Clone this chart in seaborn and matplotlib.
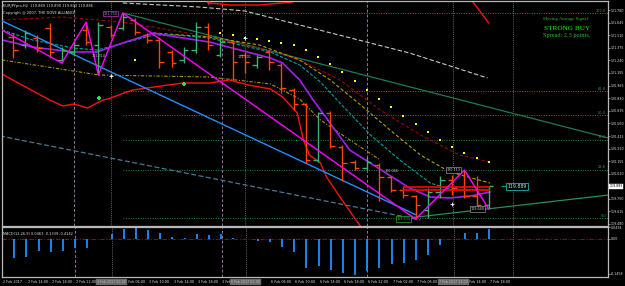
import matplotlib
matplotlib.use("Agg")
import matplotlib.pyplot as plt
import matplotlib.transforms as mtransforms
import numpy as np
import pandas as pd
import seaborn as sns

# ---------------- data (EURJPYpro, H2) ----------------
bar_open = [121.490, 121.404, 121.479, 121.587, 121.243, 121.329, 121.565, 121.404, 121.597, 121.587,
            121.673, 121.511, 121.458, 121.329, 121.243, 121.350, 121.597, 121.296, 121.436, 121.296,
            121.189, 121.329, 121.189, 120.920, 120.770, 120.167, 120.673, 120.307, 120.146, 120.081,
            120.114, 119.985, 119.845, 119.780, 119.630, 119.823, 119.952, 119.877, 119.780, 119.684]
bar_high = [121.533, 121.565, 121.511, 121.640, 121.382, 121.436, 121.651, 121.651, 121.619, 121.748,
            121.694, 121.533, 121.490, 121.350, 121.382, 121.651, 121.640, 121.479, 121.458, 121.329,
            121.296, 121.350, 121.210, 120.942, 120.780, 120.683, 120.694, 120.329, 120.167, 120.200,
            120.135, 119.995, 119.877, 119.791, 119.866, 119.995, 120.006, 120.060, 119.995, 119.888]
bar_low = [121.264, 121.372, 121.329, 121.264, 121.210, 121.296, 121.404, 121.081, 121.490, 121.565,
           121.511, 121.425, 121.157, 121.167, 121.210, 121.318, 121.350, 121.275, 121.028, 121.103,
           121.157, 121.135, 120.888, 120.705, 120.135, 120.146, 120.297, 119.942, 120.060, 120.060,
           119.727, 119.823, 119.759, 119.533, 119.544, 119.759, 119.791, 119.759, 119.662, 119.641]
bar_close = [121.350, 121.533, 121.372, 121.329, 121.350, 121.404, 121.436, 121.619, 121.511, 121.705,
             121.544, 121.458, 121.221, 121.210, 121.350, 121.597, 121.404, 121.436, 121.221, 121.221,
             121.275, 121.221, 120.942, 120.770, 120.167, 120.673, 120.318, 120.135, 120.081, 120.146,
             119.985, 119.845, 119.791, 119.684, 119.823, 119.952, 119.866, 119.780, 119.684, 119.888]

macd_hist = [-0.080, -0.076, -0.050, -0.055, -0.050, -0.038, -0.038, -0.002, 0.021, 0.042,
             0.046, 0.038, 0.025, 0.008, 0.004, 0.021, 0.017, 0.021, 0.004, -0.001,
             -0.008, -0.013, -0.034, -0.055, -0.122, -0.113, -0.130, -0.143, -0.151, -0.134,
             -0.122, -0.105, -0.101, -0.088, -0.067, -0.025, 0.001, 0.025, 0.025, 0.042]

# moving averages / bands (x = bar index, y = price)
ma_purple_x = [-0.9, 1.6, 4.9, 6.9, 8.5, 11.5, 13.4, 16.1, 21.1, 22.1, 23.5, 24.6, 27.6, 32.5, 34.2, 35.8, 37.5, 39.1]
ma_purple_y = [121.458, 121.382, 121.329, 121.329, 121.404, 121.533, 121.490, 121.436, 121.264, 121.210,
               121.028, 120.813, 120.275, 119.867, 119.770, 119.759, 119.781, 119.823]
ma_teal_x = [-0.9, 1.6, 4.9, 6.9, 8.5, 11.5, 13.4, 16.1, 21.1, 23.5, 25.2, 26.8, 29.3, 31.7, 34.2, 36.0, 39.1]
ma_teal_y = [121.565, 121.458, 121.372, 121.350, 121.404, 121.511, 121.511, 121.479, 121.329, 121.189,
             121.006, 120.780, 120.437, 120.168, 119.920, 119.845, 119.845]
ma_olive_x = [11.5, 16.1, 20.2, 23.5, 26.0, 28.4, 30.9, 33.4, 35.8, 39.1]
ma_olive_y = [121.533, 121.490, 121.404, 121.243, 121.028, 120.770, 120.490, 120.221, 120.039, 119.920]
ma_darkred_x = [-0.9, 4.0, 9.0, 15.3, 20.2, 23.5, 26.8, 30.1, 33.4, 36.6, 39.1]
ma_darkred_y = [121.673, 121.705, 121.651, 121.511, 121.372, 121.243, 121.028, 120.705, 120.437, 120.221, 120.146]
ma_low_x = [-0.9, 7.1, 16.1, 21.1, 23.5, 25.2, 27.6, 30.1]
ma_low_y = [121.243, 121.081, 121.060, 120.985, 120.823, 120.598, 120.383, 120.168]
ma_slow_x = [9.0, 15.3, 19.0, 23.5, 32.5, 38.9]
ma_slow_y = [121.856, 121.812, 121.770, 121.619, 121.318, 121.049]

band_up1_x = [16.1, 17.8, 20.2, 22.9, 24.5]
band_up1_y = [121.856, 121.834, 121.834, 121.866, 122.000]
band_up2_x = [36.8, 37.7, 39.0]
band_up2_y = [122.000, 121.866, 121.640]
band_lo_x = [-1.07, 3.0, 4.1, 5.0, 6.1, 7.4, 8.0, 9.8, 13.9, 16.1, 17.7, 19.3, 21.1, 22.1,
             23.3, 23.8, 24.3, 25.2, 25.7, 26.8, 28.4, 29.5]
band_lo_y = [121.103, 120.813, 120.748, 120.770, 120.727, 120.813, 120.834, 120.920, 120.995, 120.995,
             121.028, 120.974, 120.931, 120.845, 120.673, 120.383, 120.221, 120.135, 119.985, 119.770,
             119.469, 119.300]

zigzag_x = [-0.9, 4.0, 6.0, 7.0, 9.0, 33.0, 37.0, 39.0]
zigzag_y = [121.565, 121.210, 121.651, 121.081, 121.748, 119.533, 120.060, 119.641]

trend_blue = ([-1.07, 33.0], [121.673, 119.58])
trend_steel = ([-1.07, 33.4], [120.426, 119.523])
trend_green_up = ([9.02, 48.8], [121.748, 120.404])
trend_green_lo = ([31.7, 48.8], [119.533, 119.791])

sar_x = list(range(17, 40))
sar_y = [121.533, 121.511, 121.479, 121.468, 121.447, 121.425, 121.404, 121.350, 121.275, 121.200,
         121.114, 121.017, 120.920, 120.823, 120.737, 120.641, 120.555, 120.469, 120.383, 120.307,
         120.243, 120.189, 120.146]

fib_levels = [121.748, 120.906, 120.646, 120.386, 120.064, 119.544]
fib_names = ["100.0", "61.8", "50.0", "38.2", "23.6", "0.0"]

sr_levels = [119.877, 119.845]

price_ticks = [121.780, 121.645, 121.510, 121.375, 121.240, 121.105, 120.965, 120.830, 120.695,
               120.560, 120.425, 120.290, 120.155, 120.020, 119.750, 119.615, 119.480]
last_price = 119.885

# time axis labels (every 2nd H2 bar; the ones hidden under the line-time boxes are left out)
time_tick_idx = [-1, 1, 3, 5, 7, 9, 11, 13, 15, 17, 19, 21, 23, 25, 27, 29, 31, 33, 35, 37, 39]
time_labels = ["2 Feb 2017", "2 Feb 14:00", "2 Feb 18:00", "2 Feb 22:00", None, "3 Feb 06:00",
               "3 Feb 10:00", "3 Feb 14:00", "3 Feb 18:00", "3 Feb 22:00", None, "6 Feb 06:00",
               "6 Feb 10:00", "6 Feb 14:00", "6 Feb 18:00", "6 Feb 22:00", "7 Feb 02:00", "7 Feb 06:00",
               None, "7 Feb 14:00", "7 Feb 18:00"]
day_sep_idx = [5, 17.1, 29]
vline_idx = [8, 19, 36.1, 41]
vline_labels = ["3 Feb 2017 00:00", "6 Feb 2017 02:00", "7 Feb 2017 12:00", None]

# ---------------- figure ----------------
sns.set_theme(style="dark")
plt.rcParams['font.family'] = ['DejaVu Sans']

BG = "black"
FRAME = "#B8B8B8"
fig = plt.figure(figsize=(6.25, 2.86), dpi=100, facecolor=BG)
ax = fig.add_axes([2 / 625, 60 / 286, 606 / 625, 225 / 286])
axm = fig.add_axes([2 / 625, 9 / 286, 606 / 625, 50 / 286])

for a in (ax, axm):
    a.set_facecolor(BG)
    a.grid(False)
    for s in a.spines.values():
        s.set_color(FRAME)
        s.set_linewidth(0.9)
    a.set_xlim(-0.9, 48.77)

ax.set_ylim(119.458, 121.877)
axm.set_ylim(-0.1596, 0.0504)

# separators / vertical lines
for xi in day_sep_idx:
    for a in (ax, axm):
        a.axvline(xi, color="#9A6AA6", lw=0.7, ls=(0, (3, 2)), zorder=1)
for xi in vline_idx:
    for a in (ax, axm):
        a.axvline(xi, color="#8A8A8A", lw=0.6, ls=(0, (1, 1.5)), zorder=1)

# fibonacci levels
for lv, nm in zip(fib_levels, fib_names):
    ax.hlines(lv, 9.02, 48.77, color="#1E8A4A", lw=0.7, ls=(0, (1, 1.5)), zorder=1)
    ax.text(48.6, lv + 0.004, nm, color="#2FA060", fontsize=2.5, ha="right", va="bottom")

# trend lines
ax.plot(*trend_green_up, color="#1F7A55", lw=0.9, zorder=2)
ax.plot(*trend_green_lo, color="#2E8B57", lw=0.9, zorder=2)
ax.plot(*trend_blue, color="#1E90FF", lw=1.0, zorder=3)
ax.plot(*trend_steel, color="#4A7896", lw=0.9, ls=(0, (4, 2)), zorder=2)

# moving averages & bands
sns.lineplot(x=ma_slow_x, y=ma_slow_y, ax=ax, color="#C8C8C8", lw=0.8, ls=(0, (4, 2)), sort=False)
sns.lineplot(x=ma_darkred_x, y=ma_darkred_y, ax=ax, color="#A00000", lw=0.8, ls=(0, (3, 2)), sort=False)
sns.lineplot(x=ma_low_x, y=ma_low_y, ax=ax, color="#B09000", lw=0.8, ls=(0, (3, 1.5, 1, 1.5)), sort=False)
sns.lineplot(x=ma_olive_x, y=ma_olive_y, ax=ax, color="#B8A000", lw=0.8, ls=(0, (3, 2)), sort=False)
sns.lineplot(x=ma_teal_x, y=ma_teal_y, ax=ax, color="#00A0A0", lw=0.8, ls=(0, (3, 1.5)), sort=False)
sns.lineplot(x=ma_purple_x, y=ma_purple_y, ax=ax, color="#A020F0", lw=1.2, sort=False)
for bx, by in ((band_up1_x, band_up1_y), (band_up2_x, band_up2_y), (band_lo_x, band_lo_y)):
    sns.lineplot(x=bx, y=by, ax=ax, color="#FF1010", lw=1.0, sort=False)

# price bars
idx = np.arange(len(bar_open))
bull = np.array(bar_close) >= np.array(bar_open)
colors = np.where(bull, "#3CB371", "#FF4500")
ax.vlines(idx, bar_low, bar_high, colors=colors, lw=1.0, zorder=4)
ax.hlines(bar_open, idx - 0.38, idx, colors=colors, lw=1.0, zorder=4)
ax.hlines(bar_close, idx, idx + 0.38, colors=colors, lw=1.0, zorder=4)

# support / resistance lines
for lv in sr_levels:
    ax.hlines(lv, 32, 39.1, color="#FF0000", lw=1.2, zorder=5)

# zigzag
sns.lineplot(x=zigzag_x, y=zigzag_y, ax=ax, color="#FF00FF", lw=1.0, sort=False, zorder=5)

# parabolic SAR
sns.scatterplot(x=sar_x, y=sar_y, ax=ax, color="#FFFF00", marker="s", s=2.5, linewidth=0, zorder=6)
sns.scatterplot(x=[10], y=[121.243], ax=ax, color="#FFFF00", marker="s", s=2.5, linewidth=0, zorder=6)

# arrows / signal markers
ax.scatter([7.05, 14.0], [120.834, 120.985], marker="P", s=10, color="#30E030", linewidths=0, zorder=6)
ax.scatter([8.0, 19.0, 36.0], [121.071, 121.479, 119.695], marker="+", s=6, color="white", linewidths=0.6, zorder=6)
ax.scatter([16.0], [121.856], marker="v", s=8, color="#FF2020", linewidths=0, zorder=6)

# price labels on chart
def price_tag(x, y, txt, col, ec, fs=2.4):
    ax.text(x, y, txt, color=col, fontsize=fs, ha="center", va="center", zorder=7,
            bbox=dict(boxstyle="square,pad=0.2", fc="black", ec=ec, lw=0.5))

price_tag(8.0, 121.74, "121.750", "#E070E0", "#B040B0")
ax.text(7.0, 121.286, "121.314", color="#C8C8C8", fontsize=2.4, ha="center", va="center", zorder=7)
ax.text(19.0, 121.275, "121.201", color="#C8C8C8", fontsize=2.4, ha="center", va="center", zorder=7)
ax.text(31.0, 120.049, "120.066", color="#C8C8C8", fontsize=2.4, ha="center", va="center", zorder=7)
price_tag(32.0, 119.533, "119.533", "#30C030", "#30A030")
price_tag(36.1, 120.060, "120.113", "#D0D0D0", "#909090")
price_tag(38.1, 119.640, "119.640", "#D0D0D0", "#909090")
ax.hlines(last_price, 40.0, 40.4, color="#20B2AA", lw=0.6, zorder=7)
ax.text(41.3, last_price, "119.889", color="#A0F0F0", fontsize=3.3, ha="center", va="center", zorder=7,
        bbox=dict(boxstyle="square,pad=0.25", fc="black", ec="#20B2AA", lw=0.6))

# header texts
ax.text(0.002, 0.985, "EURJPYpro,H2  119.889 119.890 119.833 119.886", transform=ax.transAxes,
        color="#E0E0E0", fontsize=2.6, ha="left", va="top")
ax.text(0.002, 0.955, "Copyright @ 2007, THE DOVE ALLIANCE", transform=ax.transAxes,
        color="#E0E0E0", fontsize=2.6, ha="left", va="top")
ax.text(563 / 606, 1 - 18 / 225, "Moving Average Signal", transform=ax.transAxes, color="#2EB82E",
        fontsize=3.4, family="Liberation Serif", ha="center", va="center")
ax.text(565 / 606, 1 - 27 / 225, "STRONG BUY", transform=ax.transAxes, color="#00FF00",
        fontsize=5.2, family="Liberation Serif", ha="center", va="center")
ax.text(565 / 606, 1 - 34.5 / 225, "Spread: 2.3 points.", transform=ax.transAxes, color="#2EB82E",
        fontsize=4.5, family="Liberation Serif", ha="center", va="center")

# right price axis
ax.yaxis.tick_right()
ax.set_yticks(price_ticks)
ax.set_yticklabels([f"{p:.3f}" for p in price_ticks])
ax.tick_params(axis="y", colors=FRAME, labelcolor="#E0E0E0", labelsize=2.3, length=1.2, width=0.5, pad=0.5)
ax.set_xticks([])
ax.text(1.002, last_price, f"{last_price:.3f}", transform=mtransforms.blended_transform_factory(ax.transAxes, ax.transData),
        color="black", fontsize=2.3, ha="left", va="center",
        bbox=dict(boxstyle="square,pad=0.1", fc="white", ec="white", lw=0.3))

# MACD panel
axm.axhline(0, color="#A00000", lw=0.8, ls=(0, (4, 1.5, 1, 1.5)), zorder=1)
axm.vlines(idx, 0, macd_hist, color="#1E90FF", lw=1.3, zorder=3)
axm.text(0.002, 0.86, "MACD(12,26,9) 0.0463 -0.1339 -0.4142", transform=axm.transAxes,
         color="#E0E0E0", fontsize=2.5, ha="left", va="center")
axm.yaxis.tick_right()
axm.set_yticks([0.0494, 0.0, -0.1458])
axm.set_yticklabels(["0.0494", "0.00", "-0.1458"])
axm.tick_params(axis="y", colors=FRAME, labelcolor="#E0E0E0", labelsize=2.3, length=1.2, width=0.5, pad=0.5)
axm.set_xticks(time_tick_idx)
axm.set_xticklabels([])
axm.tick_params(axis="x", colors=FRAME, length=1.5, width=0.5, direction="out")

tx = mtransforms.blended_transform_factory(axm.transData, axm.transAxes)
for xi, lab in zip(time_tick_idx, time_labels):
    if lab:
        axm.text(xi + 0.1, -0.1, lab, transform=tx, color="#E0E0E0", fontsize=2.4,
                 ha="left", va="center", clip_on=False)
for xi, lab in zip(vline_idx, vline_labels):
    if lab:
        axm.text(xi, -0.1, lab, transform=tx, color="#B8B8B8", fontsize=2.3, ha="center", va="center",
                 zorder=10, bbox=dict(boxstyle="square,pad=0.3", fc="#6A6A6A", ec="#6A6A6A", lw=0.3))

for a in (ax, axm):
    a.set_xlabel("")
    a.set_ylabel("")

fig.savefig("out.png", dpi=100, facecolor=BG)
